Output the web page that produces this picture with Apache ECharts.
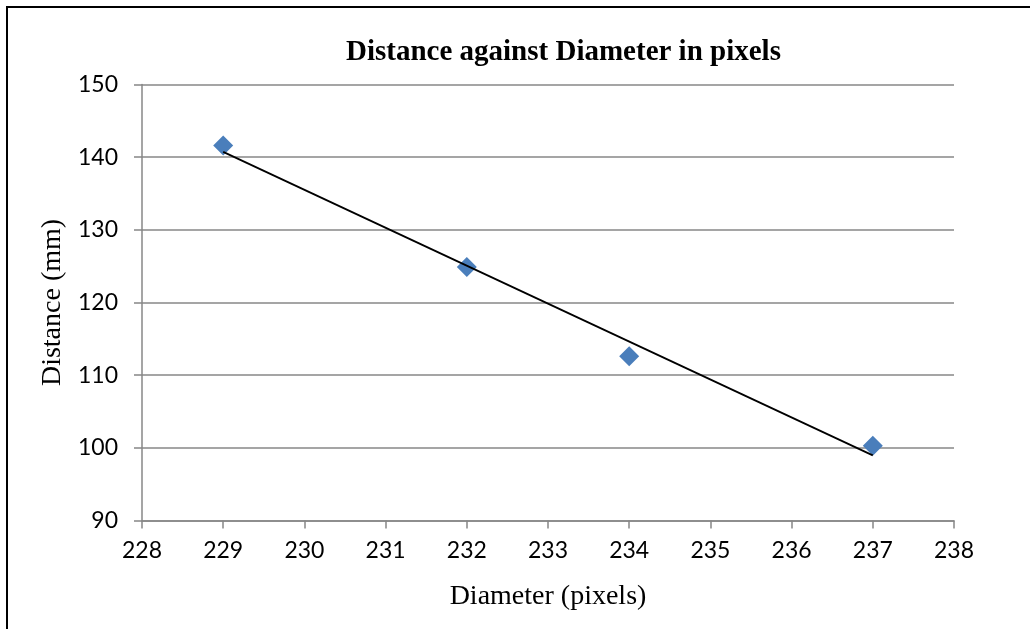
<!DOCTYPE html>
<html>
<head>
<meta charset="utf-8">
<title>Distance against Diameter</title>
<script src="https://cdn.jsdelivr.net/npm/echarts@6.0.0/dist/echarts.min.js"></script>
<style>
    html, body { margin: 0; padding: 0; background: #fff; }
    #chart { width: 1030px; height: 629px; }
</style>
</head>
<body>
<div id="chart"></div>
<script>
    // measured points
    var diameters = [229, 232, 234, 237];
    var distances = [141.6, 124.9, 112.6, 100.3];

    var xTicks = [228, 229, 230, 231, 232, 233, 234, 235, 236, 237, 238];
    var yTicks = [90, 100, 110, 120, 130, 140, 150];

    // linear trendline (least squares), drawn over the data range like excel does
    function trend(xs, ys) {
        var n = xs.length, mx = 0, my = 0;
        for (var i = 0; i < n; i++) { mx += xs[i]; my += ys[i]; }
        mx /= n; my /= n;
        var sxy = 0, sxx = 0;
        for (var j = 0; j < n; j++) {
            sxy += (xs[j] - mx) * (ys[j] - my);
            sxx += (xs[j] - mx) * (xs[j] - mx);
        }
        var k = sxy / sxx, b = my - k * mx;
        var x0 = Math.min.apply(null, xs), x1 = Math.max.apply(null, xs);
        return [[x0, k * x0 + b], [x1, k * x1 + b]];
    }

    var points = diameters.map(function (d, i) { return [d, distances[i]]; });
    var gridColor = '#878787';
    var serif = '"Liberation Serif", "Times New Roman", serif';
    var sans = 'Lato, "Open Sans", sans-serif';

    var chart = echarts.init(document.getElementById('chart'));
    chart.setOption({
        animation: false,
        backgroundColor: '#fff',
        title: {
            text: 'Distance against Diameter in pixels',
            left: 346,
            top: 38,
            padding: 0,
            textStyle: {
                fontFamily: serif,
                fontWeight: 'bold',
                fontSize: 29,
                color: '#000'
            }
        },
        graphic: [{
            type: 'polyline',
            shape: { points: [[7, 629], [7, 7], [1030, 7]] },
            style: { stroke: '#000', lineWidth: 2, fill: null }
        }],
        grid: {
            left: 142,
            right: 76,
            top: 84.5,
            bottom: 108.5,
            containLabel: false
        },
        xAxis: {
            type: 'value',
            min: xTicks[0],
            max: xTicks[xTicks.length - 1],
            interval: 1,
            name: 'Diameter (pixels)',
            nameLocation: 'middle',
            nameGap: 62,
            nameTextStyle: { fontFamily: serif, fontSize: 28, color: '#000' },
            axisLine: { onZero: false, lineStyle: { color: gridColor, width: 1.5 } },
            axisTick: { show: true, length: 8, lineStyle: { color: gridColor, width: 1.5 } },
            axisLabel: { margin: 19, fontFamily: sans, fontSize: 23, color: '#000' },
            splitLine: { show: false }
        },
        yAxis: {
            type: 'value',
            min: yTicks[0],
            max: yTicks[yTicks.length - 1],
            interval: 10,
            name: 'Distance (mm)',
            nameLocation: 'middle',
            nameGap: 75,
            nameTextStyle: { fontFamily: serif, fontSize: 28, color: '#000' },
            axisLine: { show: true, onZero: false, lineStyle: { color: gridColor, width: 1.5 } },
            axisTick: { show: true, length: 8, lineStyle: { color: gridColor, width: 1.5 } },
            axisLabel: { margin: 24, fontFamily: sans, fontSize: 23, color: '#000' },
            splitLine: { show: true, lineStyle: { color: gridColor, width: 1.5 } }
        },
        series: [{
            name: 'Distance',
            type: 'scatter',
            data: points,
            symbol: 'diamond',
            symbolSize: 20,
            itemStyle: { color: '#4a7ebb', opacity: 1 },
            z: 3
        }, {
            name: 'Trend',
            type: 'line',
            data: trend(diameters, distances),
            symbol: 'none',
            lineStyle: { color: '#000', width: 1.8 },
            z: 4
        }]
    });
</script>
</body>
</html>
